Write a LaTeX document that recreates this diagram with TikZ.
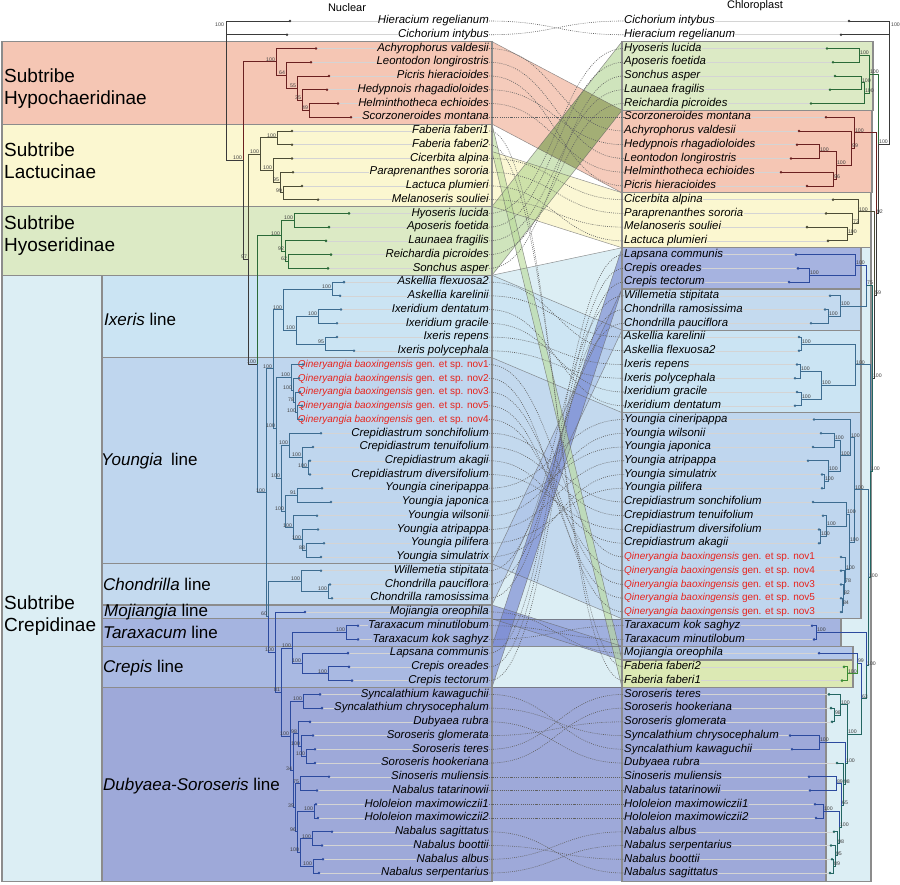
\documentclass[tikz,border=0pt]{standalone}
\usepackage{fontspec}
\setmainfont{Liberation Sans}
\definecolor{bxred}{HTML}{F5C6B4}
\definecolor{bxyel}{HTML}{FBF7D0}
\definecolor{bxgrn}{HTML}{DCEAC5}
\definecolor{bxcre}{HTML}{DCEEF4}
\definecolor{bxixe}{HTML}{CBE4F3}
\definecolor{bxyou}{HTML}{BFD6EE}
\definecolor{bxcho}{HTML}{C4DAEF}
\definecolor{bxmoj}{HTML}{B4C7E9}
\definecolor{bxtar}{HTML}{A5B4E0}
\definecolor{bxcrp}{HTML}{A9B9E2}
\definecolor{bxdub}{HTML}{9EA9D9}
\definecolor{bxfab}{HTML}{DCE9B4}
\definecolor{bxlap}{HTML}{A6B3E0}
\definecolor{rbgrn}{HTML}{A9CF86}
\definecolor{olivov}{HTML}{A3AE75}
\definecolor{rbtar}{HTML}{8D9CD8}
\definecolor{rbcho}{HTML}{A8BDE6}
\definecolor{rbcrp}{HTML}{6E7FCF}
\definecolor{rbfab}{HTML}{B9DB98}
\definecolor{qred}{HTML}{E8231C}
\definecolor{cgry}{HTML}{3A3A3A}
\definecolor{chyp}{HTML}{6A2020}
\definecolor{clac}{HTML}{4C4C36}
\definecolor{chyo}{HTML}{2A6A38}
\definecolor{cstl}{HTML}{3D6C90}
\definecolor{cdkb}{HTML}{2C4A9E}
\definecolor{ctea}{HTML}{236662}
\definecolor{cfab}{HTML}{3C8C34}
\begin{document}
\begin{tikzpicture}[x=1pt,y=-13.742pt,
  tax/.style={font=\fontsize{11.4}{13}\selectfont\itshape, inner sep=0pt, text height=8pt, text depth=2.5pt},
  qtax/.style={font=\fontsize{10}{12}\selectfont, text=qred, inner sep=0pt, text height=8pt, text depth=2.5pt},
  bsl/.style={font=\fontsize{5.2}{5.2}\selectfont, text=black!75, inner sep=0.3pt, anchor=south east, xshift=-0.6pt},
  bsr/.style={font=\fontsize{5.2}{5.2}\selectfont, text=black!75, inner sep=0.3pt, anchor=south west, xshift=0.6pt},
  link/.style={draw=black!62, line width=0.6pt, dash pattern=on 0.9pt off 1.2pt},
  faint/.style={draw=black!17, line width=0.5pt},
  br/.style={line width=0.8pt, draw=#1},
  box/.style={fill=#1, draw=black!45, line width=1.1pt},
  ribedge/.style={draw=black!60, line width=0.5pt, draw opacity=0.7},
  subl/.style={font=\fontsize{19}{22}\selectfont, align=left, anchor=west, inner sep=0pt},
  linl/.style={font=\fontsize{17}{20}\selectfont, anchor=west, inner sep=0pt},
  ttl/.style={font=\fontsize{11}{13}\selectfont, inner sep=0pt}]
\useasboundingbox (0,-0.5282) rectangle (900,63.8);
\fill[white] (0,-0.5282) rectangle (900,63.8);

% ---------- ribbons (middle) ----------
\fill[bxcre] (492,19.5) -- (492,63.6) -- (622,63.6) -- (622,17.5) -- cycle;
\fill[bxyel, fill opacity=0.9] (492,10.5) -- (492,14.5) -- (622,17.5) -- (622,13.5) -- cycle;
\fill[bxred, fill opacity=0.9] (492,2.5) -- (492,8.5) -- (622,13.5) -- (622,7.5) -- cycle;
\fill[rbgrn, fill opacity=0.55] (492,14.5) -- (492,19.5) -- (622,7.5) -- (622,2.5) -- cycle;
\begin{scope}
  \clip (492,2.5) -- (492,8.5) -- (622,13.5) -- (622,7.5) -- cycle;
  \fill[olivov] (492,14.5) -- (492,19.5) -- (622,7.5) -- (622,2.5) -- cycle;
\end{scope}
\fill[bxixe, fill opacity=0.85] (492,19.5) -- (492,25.5) -- (622,29.5) -- (622,23.5) -- cycle;
\fill[bxyou, fill opacity=0.85] (492,25.5) -- (492,40.5) -- (622,44.5) -- (622,29.5) -- cycle;
\fill[bxdub] (492,49.5) -- (492,63.6) -- (622,63.6) -- (622,49.5) -- cycle;
\fill[rbtar, fill opacity=0.75] (492,44.5) -- (492,46.5) -- (622,46.5) -- (622,44.5) -- cycle;
\fill[rbtar, fill opacity=0.75] (492,43.5) -- (492,44.5) -- (622,47.5) -- (622,46.5) -- cycle;
\fill[rbcho, fill opacity=0.6] (492,40.5) -- (492,43.5) -- (622,23.5) -- (622,20.5) -- cycle;
\fill[rbcrp, fill opacity=0.6] (492,46.5) -- (492,49.5) -- (622,20.5) -- (622,17.5) -- cycle;
\fill[rbfab, fill opacity=0.6] (492,8.5) -- (492,10.5) -- (622,49.5) -- (622,47.5) -- cycle;
% ribbon edges
\draw[ribedge] (492,2.5) -- (622,7.5) (492,8.5) -- (622,13.5);
\draw[ribedge] (492,10.5) -- (622,13.5) (492,14.5) -- (622,17.5);
\draw[ribedge] (492,14.5) -- (622,2.5) (492,19.5) -- (622,7.5);
\draw[ribedge] (492,19.5) -- (622,17.5);
\draw[ribedge] (492,19.5) -- (622,23.5) (492,25.5) -- (622,29.5);
\draw[ribedge] (492,40.5) -- (622,44.5);
\draw[ribedge] (492,40.5) -- (622,20.5) (492,43.5) -- (622,23.5);
\draw[ribedge] (492,43.5) -- (622,46.5) (492,44.5) -- (622,47.5);
\draw[ribedge] (492,44.5) -- (622,44.5) (492,46.5) -- (622,46.5);
\draw[ribedge] (492,46.5) -- (622,17.5) (492,49.5) -- (622,20.5);
\draw[ribedge] (492,8.5) -- (622,47.5) (492,10.5) -- (622,49.5);
\draw[ribedge] (492,49.5) -- (622,49.5);

% ---------- left boxes ----------
\path[box=bxred] (2,2.5) rectangle (492,8.5);
\path[box=bxyel] (2,8.5) rectangle (492,14.5);
\path[box=bxgrn] (2,14.5) rectangle (492,19.5);
\path[box=bxcre] (2,19.5) rectangle (492,63.6);
\path[box=bxixe] (102,19.5) rectangle (492,25.5);
\path[box=bxyou] (102,25.5) rectangle (492,40.5);
\path[box=bxcho] (102,40.5) rectangle (492,43.5);
\path[box=bxmoj] (102,43.5) rectangle (492,44.5);
\path[box=bxtar] (102,44.5) rectangle (492,46.5);
\path[box=bxcrp] (102,46.5) rectangle (492,49.5);
\path[box=bxdub] (102,49.5) rectangle (492,63.6);

% ---------- right boxes ----------
\path[box=bxgrn] (622,2.5) rectangle (873,7.5);
\path[box=bxred] (622,7.5) rectangle (872,13.5);
\path[box=bxyel] (622,13.5) rectangle (871,17.5);
\path[box=bxcre] (622,17.5) rectangle (871,63.6);
\path[box=bxlap] (622,17.5) rectangle (861,20.5);
\path[box=bxcho] (622,20.5) rectangle (861,23.5);
\path[box=bxixe] (622,23.5) rectangle (861,29.5);
\path[box=bxyou] (622,29.5) rectangle (861,44.5);
\path[box=bxtar] (622,44.5) rectangle (841,46.5);
\path[box=bxmoj] (622,46.5) rectangle (853,47.5);
\path[box=bxfab] (622,47.5) rectangle (853,49.5);
\path[box=bxdub] (622,49.5) rectangle (826,63.6);

% ---------- group labels ----------
\node[ttl] (tnuc) at (347,0.05) {Nuclear};
\node[ttl] (tchl) at (755,-0.09) {Chloroplast};
\node[subl] (g1) at (4,5.95) {Subtribe\\Hypochaeridinae};
\node[subl] (g2) at (4,11.2) {Subtribe\\Lactucinae};
\node[subl] (g3) at (4,16.6) {Subtribe\\Hyoseridinae};
\node[subl] (g4) at (4,44.3) {Subtribe\\Crepidinae};
\node[linl] (g5) at (104,22.7) {\textit{Ixeris} line};
\node[linl] (g6) at (101,33.0) {\textit{Youngia}\enspace line};
\node[linl] (g7) at (103,42.0) {\textit{Chondrilla} line};
\node[linl] (g8) at (104,44.0) {\textit{Mojiangia} line};
\node[linl] (g9) at (103,45.5) {\textit{Taraxacum} line};
\node[linl] (g10) at (103,48.1) {\textit{Crepis} line};
\node[linl] (g11) at (103,56.7) {\textit{Dubyaea-Soroseris} line};

% ---------- tips ----------
\foreach \ri/\x in {1/290,2/287,3/316,4/311,5/329,6/327,7/338,8/351,9/292,10/292,11/292,12/293,13/302,14/318,15/349,16/329,17/326,18/331,19/328,20/344,21/340,22/341,23/337,24/337,25/354,26/303,27/299,28/300,29/302,30/302,31/321,32/313,33/310,34/310,35/322,36/331,37/317,38/318,39/324,40/321,41/321,42/330,43/332,44/305,45/358,46/358,47/348,48/349,49/352,50/320,51/322,52/310,53/313,54/315,55/315,56/329,57/317,58/316,59/318,60/332,61/322,62/323,63/319}
  \coordinate (tl\ri) at (\x,\ri);
\foreach \ri/\x in {1/849,2/841,3/827,4/833,5/835,6/830,7/811,8/826,9/799,10/797,11/791,12/781,13/807,14/833,15/826,16/807,17/828,18/796,19/798,20/789,21/830,22/825,23/811,24/799,25/799,26/797,27/795,28/797,29/795,30/814,31/821,32/813,33/808,34/822,35/822,36/813,37/823,38/819,39/819,40/841,41/841,42/841,43/841,44/841,45/812,46/814,47/819,48/844,49/842,50/829,51/831,52/832,53/790,54/792,55/837,56/809,57/810,58/815,59/816,60/834,61/831,62/832,63/830}
  \coordinate (tr\ri) at (\x,\ri);

% ---------- taxon labels ----------
\foreach \ri/\t in {1/Hieracium regelianum,2/Cichorium intybus,3/Achyrophorus valdesii,4/Leontodon longirostris,5/Picris hieracioides,6/Hedypnois rhagadioloides,7/Helminthotheca echioides,8/Scorzoneroides montana,9/Faberia faberi1,10/Faberia faberi2,11/Cicerbita alpina,12/Paraprenanthes sororia,13/Lactuca plumieri,14/Melanoseris souliei,15/Hyoseris lucida,16/Aposeris foetida,17/Launaea fragilis,18/Reichardia picroides,19/Sonchus asper,20/Askellia flexuosa2,21/Askellia karelinii,22/Ixeridium dentatum,23/Ixeridium gracile,24/Ixeris repens,25/Ixeris polycephala,31/Crepidiastrum sonchifolium,32/Crepidiastrum tenuifolium,33/Crepidiastrum akagii,34/Crepidiastrum diversifolium,35/Youngia cineripappa,36/Youngia japonica,37/Youngia wilsonii,38/Youngia atripappa,39/Youngia pilifera,40/Youngia simulatrix,41/Willemetia stipitata,42/Chondrilla pauciflora,43/Chondrilla ramosissima,44/Mojiangia oreophila,45/Taraxacum minutilobum,46/Taraxacum kok saghyz,47/Lapsana communis,48/Crepis oreades,49/Crepis tectorum,50/Syncalathium kawaguchii,51/Syncalathium chrysocephalum,52/Dubyaea rubra,53/Soroseris glomerata,54/Soroseris teres,55/Soroseris hookeriana,56/Sinoseris muliensis,57/Nabalus tatarinowii,58/Hololeion maximowiczii1,59/Hololeion maximowiczii2,60/Nabalus sagittatus,61/Nabalus boottii,62/Nabalus albus,63/Nabalus serpentarius}
  \node[tax, anchor=east] (nl\ri) at (489,\ri) {\t};
\foreach \ri/\nv in {26/nov1,27/nov2,28/nov3,29/nov5,30/nov4}
  \node[qtax, anchor=east] (nl\ri) at (489,\ri) {\textit{Qineryangia baoxingensis} gen. et sp. \nv};
\foreach \ri/\t in {1/Cichorium intybus,2/Hieracium regelianum,3/Hyoseris lucida,4/Aposeris foetida,5/Sonchus asper,6/Launaea fragilis,7/Reichardia picroides,8/Scorzoneroides montana,9/Achyrophorus valdesii,10/Hedypnois rhagadioloides,11/Leontodon longirostris,12/Helminthotheca echioides,13/Picris hieracioides,14/Cicerbita alpina,15/Paraprenanthes sororia,16/Melanoseris souliei,17/Lactuca plumieri,18/Lapsana communis,19/Crepis oreades,20/Crepis tectorum,21/Willemetia stipitata,22/Chondrilla ramosissima,23/Chondrilla pauciflora,24/Askellia karelinii,25/Askellia flexuosa2,26/Ixeris repens,27/Ixeris polycephala,28/Ixeridium gracile,29/Ixeridium dentatum,30/Youngia cineripappa,31/Youngia wilsonii,32/Youngia japonica,33/Youngia atripappa,34/Youngia simulatrix,35/Youngia pilifera,36/Crepidiastrum sonchifolium,37/Crepidiastrum tenuifolium,38/Crepidiastrum diversifolium,39/Crepidiastrum akagii,45/Taraxacum kok saghyz,46/Taraxacum minutilobum,47/Mojiangia oreophila,48/Faberia faberi2,49/Faberia faberi1,50/Soroseris teres,51/Soroseris hookeriana,52/Soroseris glomerata,53/Syncalathium chrysocephalum,54/Syncalathium kawaguchii,55/Dubyaea rubra,56/Sinoseris muliensis,57/Nabalus tatarinowii,58/Hololeion maximowiczii1,59/Hololeion maximowiczii2,60/Nabalus albus,61/Nabalus serpentarius,62/Nabalus boottii,63/Nabalus sagittatus}
  \node[tax, anchor=west] (nr\ri) at (624,\ri) {\t};
\foreach \ri/\nv in {40/nov1,41/nov4,42/nov3,43/nov5,44/nov3}
  \node[qtax, anchor=west] (nr\ri) at (624,\ri) {\textit{Qineryangia baoxingensis} gen. et sp. \nv};

% faint tip lines
\foreach \ri in {1,...,63} {
  \draw[faint] (tl\ri) -- (nl\ri.west);
  \draw[faint] (nr\ri.east) -- (tr\ri);
}

% ---------- dotted links ----------
\foreach \a/\b in {1/2,2/1,3/9,4/11,5/13,6/10,7/12,8/8,9/49,10/48,11/14,12/15,13/17,14/16,15/3,16/4,17/6,18/7,19/5,20/25,21/24,22/29,23/28,24/26,25/27,26/40,27/44,28/42,29/43,30/41,31/36,32/37,33/39,34/38,35/30,36/32,37/31,38/33,39/35,40/34,41/21,42/23,43/22,44/47,45/46,46/45,47/18,48/19,49/20,50/54,51/53,52/55,53/52,54/50,55/51,56/56,57/57,58/58,59/59,60/63,61/62,62/60,63/61}
  \draw[link] (nl\a.east) .. controls +(64,0) and +(-64,0) .. (nr\b.west);

% ---------- left tree (nuclear) ----------
\coordinate (lR0) at (226,6.075);
\coordinate (lA) at (243,11.15);
\coordinate (lB) at (248,18.33);
\coordinate (lH1) at (276,3.969);
\coordinate (lH2) at (286,4.938);
\coordinate (lH3) at (297,5.875);
\coordinate (lH4) at (302,6.75);
\coordinate (lH5) at (309,7.5);
\coordinate (lLF) at (277,9.5);
\coordinate (lL1) at (260,10.688);
\coordinate (lL2) at (273,11.875);
\coordinate (lL3) at (280,12.75);
\coordinate (lL4) at (283,13.5);
\coordinate (lP) at (257,25.97);
\coordinate (lHy) at (281,16.625);
\coordinate (lHyA) at (294,15.5);
\coordinate (lHy2) at (285,17.75);
\coordinate (lHy3) at (288,18.5);
\coordinate (lQ0) at (266,35.32);
\coordinate (lIY) at (273,26.305);
\coordinate (lIX) at (283,22);
\coordinate (lIXa) at (332,20.5);
\coordinate (lIXd) at (318,22.5);
\coordinate (lIXr) at (325,24.5);
\coordinate (lIXdr) at (296,23.5);
\coordinate (lYL) at (276,30.61);
\coordinate (lQA) at (291,26.9375);
\coordinate (lQB) at (293,27.875);
\coordinate (lQC) at (295,28.75);
\coordinate (lQD) at (297,29.5);
\coordinate (lCY) at (281,34.28);
\coordinate (lCRs) at (289,31.875);
\coordinate (lCRt) at (302,32.75);
\coordinate (lCRa) at (308,33.5);
\coordinate (lYg) at (285,36.6875);
\coordinate (lYcj) at (297,35.5);
\coordinate (lYwap) at (293,37.875);
\coordinate (lYap) at (302,38.75);
\coordinate (lYps) at (306,39.5);
\coordinate (lCM) at (268,44.33);
\coordinate (lCH) at (301,41.75);
\coordinate (lCH1) at (328,42.5);
\coordinate (lM) at (275,46.915);
\coordinate (lTCD) at (281,49.83);
\coordinate (lTC) at (292,46.625);
\coordinate (lTX) at (346,45.5);
\coordinate (lCP) at (302,47.75);
\coordinate (lCP1) at (328,48.5);
\coordinate (lDS) at (290,53.03);
\coordinate (lSync) at (303,50.5);
\coordinate (lDM) at (293,55.5625);
\coordinate (lD1) at (298,52.875);
\coordinate (lSg) at (301,53.75);
\coordinate (lSth) at (306,54.5);
\coordinate (lDN1) at (295,58.25);
\coordinate (lSN) at (300,56.5);
\coordinate (lDN2) at (297,60);
\coordinate (lHo) at (314,58.5);
\coordinate (lNab) at (300,61.5);
\coordinate (lNsb) at (312,60.5);
\coordinate (lNas) at (313,62.5);

\foreach \pp/\cc in {lR0/tl1,lR0/tl2,lR0/lA,lA/lB,lB/lP}
  \draw[br=cgry] (\pp) |- (\cc);
\foreach \pp/\cc in {lA/lH1,lH1/tl3,lH1/lH2,lH2/tl4,lH2/lH3,lH3/tl5,lH3/lH4,lH4/tl6,lH4/lH5,lH5/tl7,lH5/tl8}
  \draw[br=chyp] (\pp) |- (\cc);
\foreach \pp/\cc in {lB/lL1,lL1/lLF,lLF/tl9,lLF/tl10,lL1/lL2,lL2/tl11,lL2/lL3,lL3/tl12,lL3/lL4,lL4/tl13,lL4/tl14}
  \draw[br=clac] (\pp) |- (\cc);
\foreach \pp/\cc in {lP/lHy,lHy/lHyA,lHyA/tl15,lHyA/tl16,lHy/lHy2,lHy2/tl17,lHy2/lHy3,lHy3/tl18,lHy3/tl19}
  \draw[br=chyo] (\pp) |- (\cc);
\foreach \pp/\cc in {lP/lQ0,lQ0/lIY,lIY/lIX,lIX/lIXa,lIXa/tl20,lIXa/tl21,lIX/lIXdr,lIXdr/lIXd,lIXd/tl22,lIXd/tl23,lIXdr/lIXr,lIXr/tl24,lIXr/tl25,lIY/lYL,lYL/lQA,lQA/tl26,lQA/lQB,lQB/tl27,lQB/lQC,lQC/tl28,lQC/lQD,lQD/tl29,lQD/tl30,lYL/lCY,lCY/lCRs,lCRs/tl31,lCRs/lCRt,lCRt/tl32,lCRt/lCRa,lCRa/tl33,lCRa/tl34,lCY/lYg,lYg/lYcj,lYcj/tl35,lYcj/tl36,lYg/lYwap,lYwap/tl37,lYwap/lYap,lYap/tl38,lYap/lYps,lYps/tl39,lYps/tl40,lQ0/lCM,lCM/lCH,lCH/tl41,lCH/lCH1,lCH1/tl42,lCH1/tl43}
  \draw[br=cstl] (\pp) |- (\cc);
\foreach \pp/\cc in {lCM/lM,lM/tl44,lM/lTCD,lTCD/lTC,lTC/lTX,lTX/tl45,lTX/tl46,lTC/lCP,lCP/tl47,lCP/lCP1,lCP1/tl48,lCP1/tl49,lTCD/lDS,lDS/lSync,lSync/tl50,lSync/tl51,lDS/lDM,lDM/lD1,lD1/tl52,lD1/lSg,lSg/tl53,lSg/lSth,lSth/tl54,lSth/tl55,lDM/lDN1,lDN1/lSN,lSN/tl56,lSN/tl57,lDN1/lDN2,lDN2/lHo,lHo/tl58,lHo/tl59,lDN2/lNab,lNab/lNsb,lNsb/tl60,lNsb/tl61,lNab/lNas,lNas/tl62,lNas/tl63}
  \draw[br=cdkb] (\pp) |- (\cc);
\foreach \ri in {1,2} \fill[cgry] (tl\ri) circle (1.4pt);
\foreach \ri in {3,...,8} \fill[chyp] (tl\ri) circle (1.4pt);
\foreach \ri in {9,...,14} \fill[clac] (tl\ri) circle (1.4pt);
\foreach \ri in {15,...,19} \fill[chyo] (tl\ri) circle (1.4pt);
\foreach \ri in {20,...,43} \fill[cstl] (tl\ri) circle (1.4pt);
\foreach \ri in {44,...,63} \fill[cdkb] (tl\ri) circle (1.4pt);

\node[bsl, anchor=east] (bl0) at (225,1.25) {100};
\foreach \nd/\v in {lA/100,lB/97,lH1/100,lH2/64,lH3/55,lH4/35,lH5/49,lLF/100,lL1/100,lL2/100,lL3/95,lL4/99,lP/100,lHy/100,lHyA/100,lHy2/92,lHy3/62,lQ0/100,lIY/100,lIX/100,lIXa/100,lIXd/100,lIXr/95,lIXdr/100,lYL/100,lQA/100,lQB/100,lQC/78,lQD/100,lCY/100,lCRs/100,lCRt/100,lCRa/100,lYg/100,lYcj/91,lYwap/100,lYap/100,lYps/88,lCM/60,lCH/100,lCH1/100,lM/100,lTCD/81,lTC/100,lTX/100,lCP/100,lCP1/100,lDS/100,lSync/100,lDM/34,lD1/98,lSg/100,lSth/100,lDN1/39,lSN/75,lDN2/96,lHo/100,lNab/100,lNsb/100,lNas/100}
  \node[bsl] (b\nd) at (\nd) {\v};

% ---------- right tree (chloroplast) ----------
\coordinate (rR0) at (889,5.475);
\coordinate (rB) at (878,9.95);
\coordinate (rG) at (869,4.875);
\coordinate (rG1) at (859,3.5);
\coordinate (rG2) at (861,5.5);
\coordinate (rG3) at (864,6.25);
\coordinate (rC) at (876,15.03);
\coordinate (rR) at (854,9.125);
\coordinate (rR4) at (851,10.25);
\coordinate (rR3) at (836,11.5);
\coordinate (rR1) at (819,10.5);
\coordinate (rR2) at (833,12.5);
\coordinate (rD) at (874,20.94);
\coordinate (rY) at (858,14.875);
\coordinate (rY2) at (852,15.75);
\coordinate (rY1) at (847,16.5);
\coordinate (rK2) at (872,27.0);
\coordinate (rK1) at (866,20.25);
\coordinate (rLC) at (855,18.75);
\coordinate (rLC1) at (809,19.5);
\coordinate (rCH) at (840,21.75);
\coordinate (rCH1) at (828,22.5);
\coordinate (rK3) at (870,33.76);
\coordinate (rIX) at (855,26);
\coordinate (rA) at (801,24.5);
\coordinate (rII) at (821,27.5);
\coordinate (rI) at (800,26.5);
\coordinate (rId) at (801,28.5);
\coordinate (rK4) at (868,41.51);
\coordinate (rYC) at (854,35.11);
\coordinate (rYo) at (850,31.3125);
\coordinate (rYwa) at (840,32.625);
\coordinate (rYw) at (834,31.5);
\coordinate (rYa) at (828,33.75);
\coordinate (rYsp) at (824,34.5);
\coordinate (rCQ) at (849,38.906);
\coordinate (rCs) at (846,36.875);
\coordinate (rCt) at (826,37.75);
\coordinate (rCda) at (820,38.5);
\coordinate (rQ1) at (845,40.9375);
\coordinate (rQ2) at (844,41.875);
\coordinate (rQ3) at (843,42.75);
\coordinate (rQ4) at (842,43.5);
\coordinate (rTMF) at (866,47.91);
\coordinate (rTX) at (816,45.5);
\coordinate (rTD) at (861,50.32);
\coordinate (rMF) at (857,47.75);
\coordinate (rFab) at (847,48.5);
\coordinate (rD1) at (847,52.89);
\coordinate (rS) at (840,50.75);
\coordinate (rSh) at (834,51.5);
\coordinate (rD2) at (845,55.02);
\coordinate (rSy) at (819,53.5);
\coordinate (rD3) at (843,56.55);
\coordinate (rD4) at (841,58.09);
\coordinate (rSN) at (836,56.5);
\coordinate (rD5) at (839,59.6875);
\coordinate (rHo) at (823,58.5);
\coordinate (rN1) at (837,60.875);
\coordinate (rN2) at (835,61.75);
\coordinate (rN3) at (833,62.5);

\foreach \pp/\cc in {rR0/tr1,rR0/tr2,rR0/rB,rB/rC,rC/rD,rD/rK2}
  \draw[br=cgry] (\pp) |- (\cc);
\foreach \pp/\cc in {rB/rG,rG/rG1,rG1/tr3,rG1/tr4,rG/rG3,rG3/rG2,rG2/tr5,rG2/tr6,rG3/tr7}
  \draw[br=chyo] (\pp) |- (\cc);
\foreach \pp/\cc in {rC/rR,rR/tr8,rR/rR4,rR4/tr9,rR4/rR3,rR3/rR1,rR1/tr10,rR1/tr11,rR3/rR2,rR2/tr12,rR2/tr13}
  \draw[br=chyp] (\pp) |- (\cc);
\foreach \pp/\cc in {rD/rY,rY/tr14,rY/rY2,rY2/tr15,rY2/rY1,rY1/tr16,rY1/tr17}
  \draw[br=clac] (\pp) |- (\cc);
\foreach \pp/\cc in {rK2/rK1,rK2/rK3,rK3/rK4,rK4/rTMF,rTMF/rTD,rTD/rD1,rD1/rS,rS/tr50,rS/rSh,rSh/tr51,rSh/tr52,rD1/rD2,rD2/rD3,rD3/tr55,rD3/rD4,rD4/rD5,rD5/rN1,rN1/tr60,rN1/rN2,rN2/tr61,rN2/rN3,rN3/tr62,rN3/tr63}
  \draw[br=ctea] (\pp) |- (\cc);
\foreach \pp/\cc in {rK1/rLC,rLC/tr18,rLC/rLC1,rLC1/tr19,rLC1/tr20,rTMF/rTX,rTX/tr45,rTX/tr46,rTD/rMF,rMF/tr47,rD2/rSy,rSy/tr53,rSy/tr54,rD4/rSN,rSN/tr56,rSN/tr57,rD5/rHo,rHo/tr58,rHo/tr59}
  \draw[br=cdkb] (\pp) |- (\cc);
\foreach \pp/\cc in {rK1/rCH,rCH/tr21,rCH/rCH1,rCH1/tr22,rCH1/tr23,rK3/rIX,rIX/rA,rA/tr24,rA/tr25,rIX/rII,rII/rI,rI/tr26,rI/tr27,rII/rId,rId/tr28,rId/tr29,rK4/rYC,rYC/rYo,rYo/tr30,rYo/rYwa,rYwa/rYw,rYw/tr31,rYw/tr32,rYwa/rYa,rYa/tr33,rYa/rYsp,rYsp/tr34,rYsp/tr35,rYC/rCQ,rCQ/rCs,rCs/tr36,rCs/rCt,rCt/tr37,rCt/rCda,rCda/tr38,rCda/tr39,rCQ/rQ1,rQ1/tr40,rQ1/rQ2,rQ2/tr41,rQ2/rQ3,rQ3/tr42,rQ3/rQ4,rQ4/tr43,rQ4/tr44}
  \draw[br=cstl] (\pp) |- (\cc);
\foreach \pp/\cc in {rMF/rFab,rFab/tr48,rFab/tr49}
  \draw[br=cfab] (\pp) |- (\cc);
\foreach \ri in {1,2} \fill[cgry] (tr\ri) circle (1.4pt);
\foreach \ri in {3,...,7} \fill[chyo] (tr\ri) circle (1.4pt);
\foreach \ri in {8,...,13} \fill[chyp] (tr\ri) circle (1.4pt);
\foreach \ri in {14,...,17} \fill[clac] (tr\ri) circle (1.4pt);
\foreach \ri in {18,19,20,45,46,47,53,54,56,57,58,59} \fill[cdkb] (tr\ri) circle (1.4pt);
\foreach \ri in {21,...,44} \fill[cstl] (tr\ri) circle (1.4pt);
\foreach \ri in {48,49} \fill[cfab] (tr\ri) circle (1.4pt);
\foreach \ri in {50,51,52,55,60,61,62,63} \fill[ctea] (tr\ri) circle (1.4pt);

\node[bsr, anchor=west] (br0) at (890,1.25) {100};
\foreach \nd/\v in {rB/100,rC/92,rD/59,rG/100,rG1/100,rG2/100,rG3/100,rR/100,rR4/99,rR3/100,rR1/100,rR2/96,rY/100,rY2/73,rY1/100,rK2/100,rK1/75,rLC/100,rLC1/100,rCH/100,rCH1/100,rK3/100,rIX/100,rA/100,rII/100,rI/100,rId/100,rK4/100,rYC/100,rYo/100,rYwa/100,rYw/100,rYa/100,rYsp/100,rCQ/100,rCs/100,rCt/100,rCda/100,rQ1/100,rQ2/78,rQ3/82,rQ4/84,rTMF/100,rTX/100,rTD/63,rMF/99,rFab/100,rD1/100,rS/100,rSh/98,rD2/100,rSy/100,rD3/98,rD4/65,rSN/89,rD5/100,rHo/100,rN1/98,rN2/95,rN3/89}
  \node[bsr] (b\nd) at (\nd) {\v};
\end{tikzpicture}
\end{document}
